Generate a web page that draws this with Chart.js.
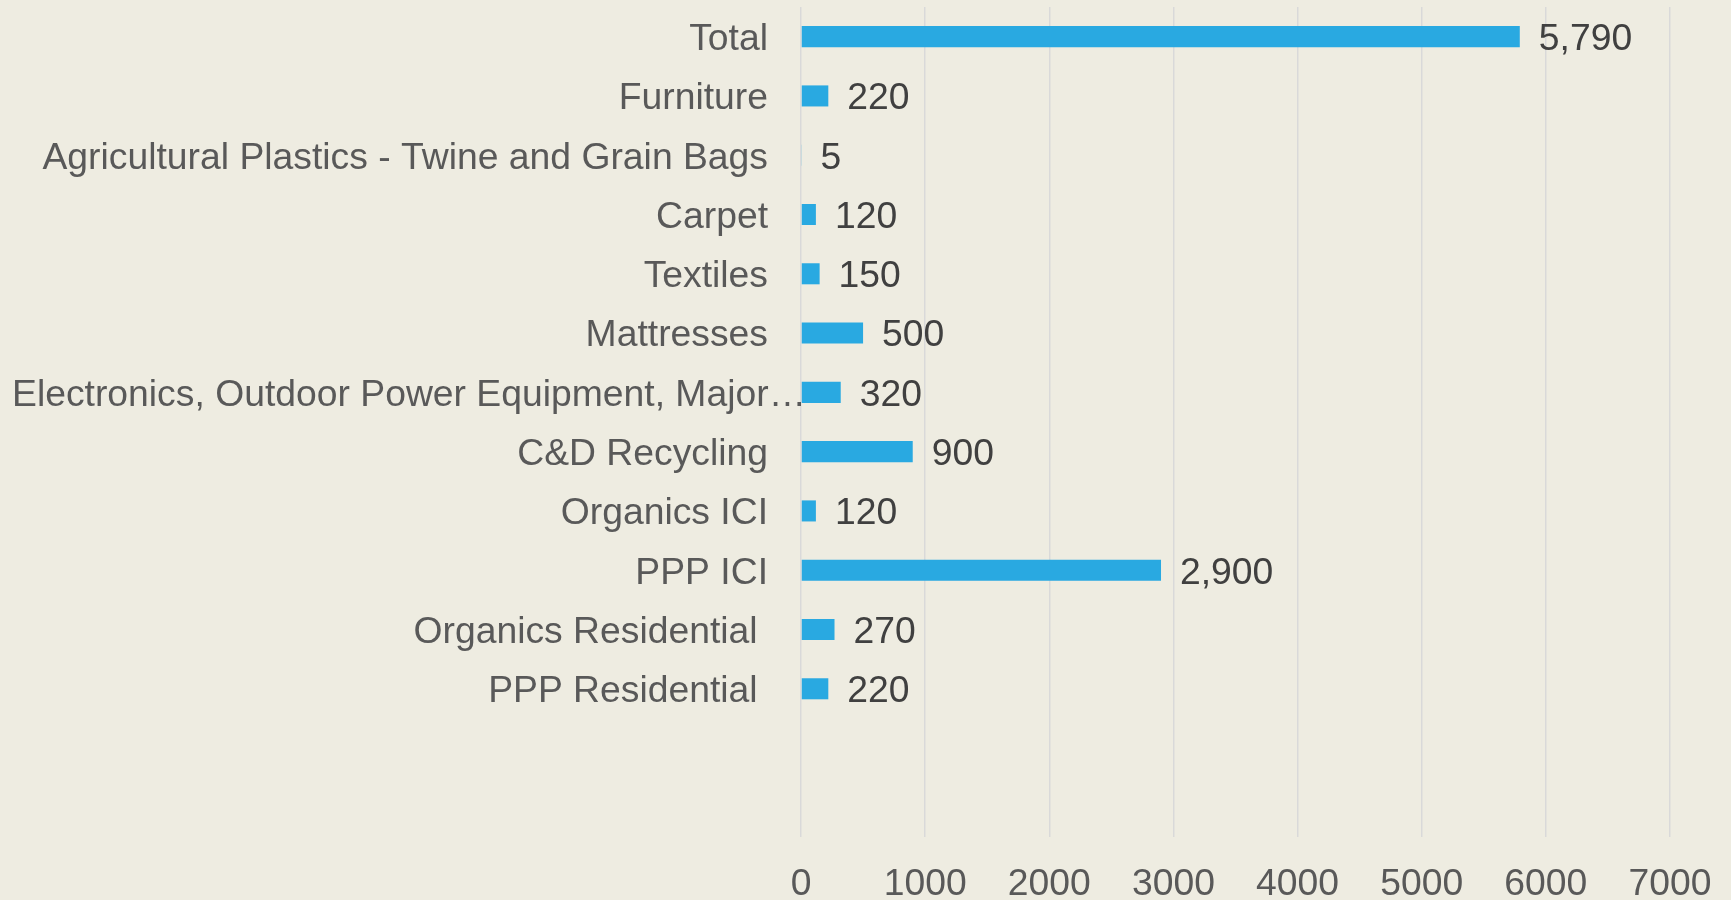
<!DOCTYPE html>
<html>
<head>
<script src="https://cdn.jsdelivr.net/npm/chart.js@4.4.0/dist/chart.umd.min.js"></script>
<style>
  body { margin: 0; padding: 0; background: #EEECE1; overflow: hidden; }
  #wrap { width: 1731px; height: 900px; }
</style>
</head>
<body>
<div id="wrap"><canvas id="chartCanvas"></canvas></div>
<script>
// categories top to bottom (two blank rows at the bottom, as in the source sheet)
const categories = [
  'Total',
  'Furniture',
  'Agricultural Plastics - Twine and Grain Bags',
  'Carpet',
  'Textiles',
  'Mattresses',
  'Electronics, Outdoor Power Equipment, Major\u2026',
  'C&D Recycling',
  'Organics ICI',
  'PPP ICI',
  'Organics Residential ',
  'PPP Residential ',
  '',
  ''
];
const tonnes = [5790, 220, 5, 120, 150, 500, 320, 900, 120, 2900, 270, 220, null, null];
const xTicks = [0, 1000, 2000, 3000, 4000, 5000, 6000, 7000];

const FONT = "'Liberation Sans', Arial, sans-serif";
const SIZE = 37.3;

// category names drawn next to the y axis (long ones slide right instead of clipping)
const categoryLabels = {
  id: 'categoryLabels',
  afterDraw(chart) {
    const ctx = chart.ctx;
    const y = chart.scales.y;
    const left = chart.chartArea.left;
    ctx.save();
    ctx.font = SIZE + 'px ' + FONT;
    ctx.fillStyle = '#595959';
    ctx.textAlign = 'right';
    ctx.textBaseline = 'middle';
    categories.forEach((c, i) => {
      if (!c) return;
      const w = ctx.measureText(c).width;
      const x = Math.max(left - 33, w + 12);
      ctx.fillText(c, x, y.getPixelForTick(i) + 3);
    });
    ctx.restore();
  }
};

// value labels at the end of each bar
const valueLabels = {
  id: 'valueLabels',
  afterDatasetsDraw(chart) {
    const ctx = chart.ctx;
    const meta = chart.getDatasetMeta(0);
    ctx.save();
    ctx.font = SIZE + 'px ' + FONT;
    ctx.fillStyle = '#404040';
    ctx.textAlign = 'left';
    ctx.textBaseline = 'middle';
    meta.data.forEach((bar, i) => {
      const v = tonnes[i];
      if (v === null) return;
      ctx.fillText(v.toLocaleString('en-US'), bar.x + 19, bar.y + 3);
    });
    ctx.restore();
  }
};

const ctx = document.getElementById('chartCanvas').getContext('2d');
new Chart(ctx, {
  type: 'bar',
  data: {
    labels: categories,
    datasets: [{
      data: tonnes,
      backgroundColor: '#29A9E1',
      borderWidth: 0,
      categoryPercentage: 1,
      barPercentage: 0.355
    }]
  },
  options: {
    indexAxis: 'y',
    responsive: true,
    maintainAspectRatio: false,
    animation: false,
    layout: { padding: { top: 7, right: 61, bottom: 0, left: 0 } },
    plugins: {
      legend: { display: false },
      tooltip: { enabled: false }
    },
    scales: {
      x: {
        min: 0,
        max: 7000,
        afterBuildTicks(scale) {
          scale.ticks = xTicks.map(v => ({ value: v }));
        },
        afterFit(scale) {
          scale.height = 63;
          scale.paddingLeft = 0;
          scale.paddingRight = 0;
        },
        ticks: {
          callback: v => String(v),
          font: { family: FONT, size: SIZE },
          color: '#595959',
          padding: 25,
          maxRotation: 0
        },
        grid: { color: '#D9D9D9', lineWidth: 1.5, drawTicks: false },
        border: { display: false }
      },
      y: {
        ticks: { display: false },
        grid: { display: false },
        border: { display: false },
        afterFit(scale) { scale.width = 801; }
      }
    }
  },
  plugins: [categoryLabels, valueLabels]
});
</script>
</body>
</html>
